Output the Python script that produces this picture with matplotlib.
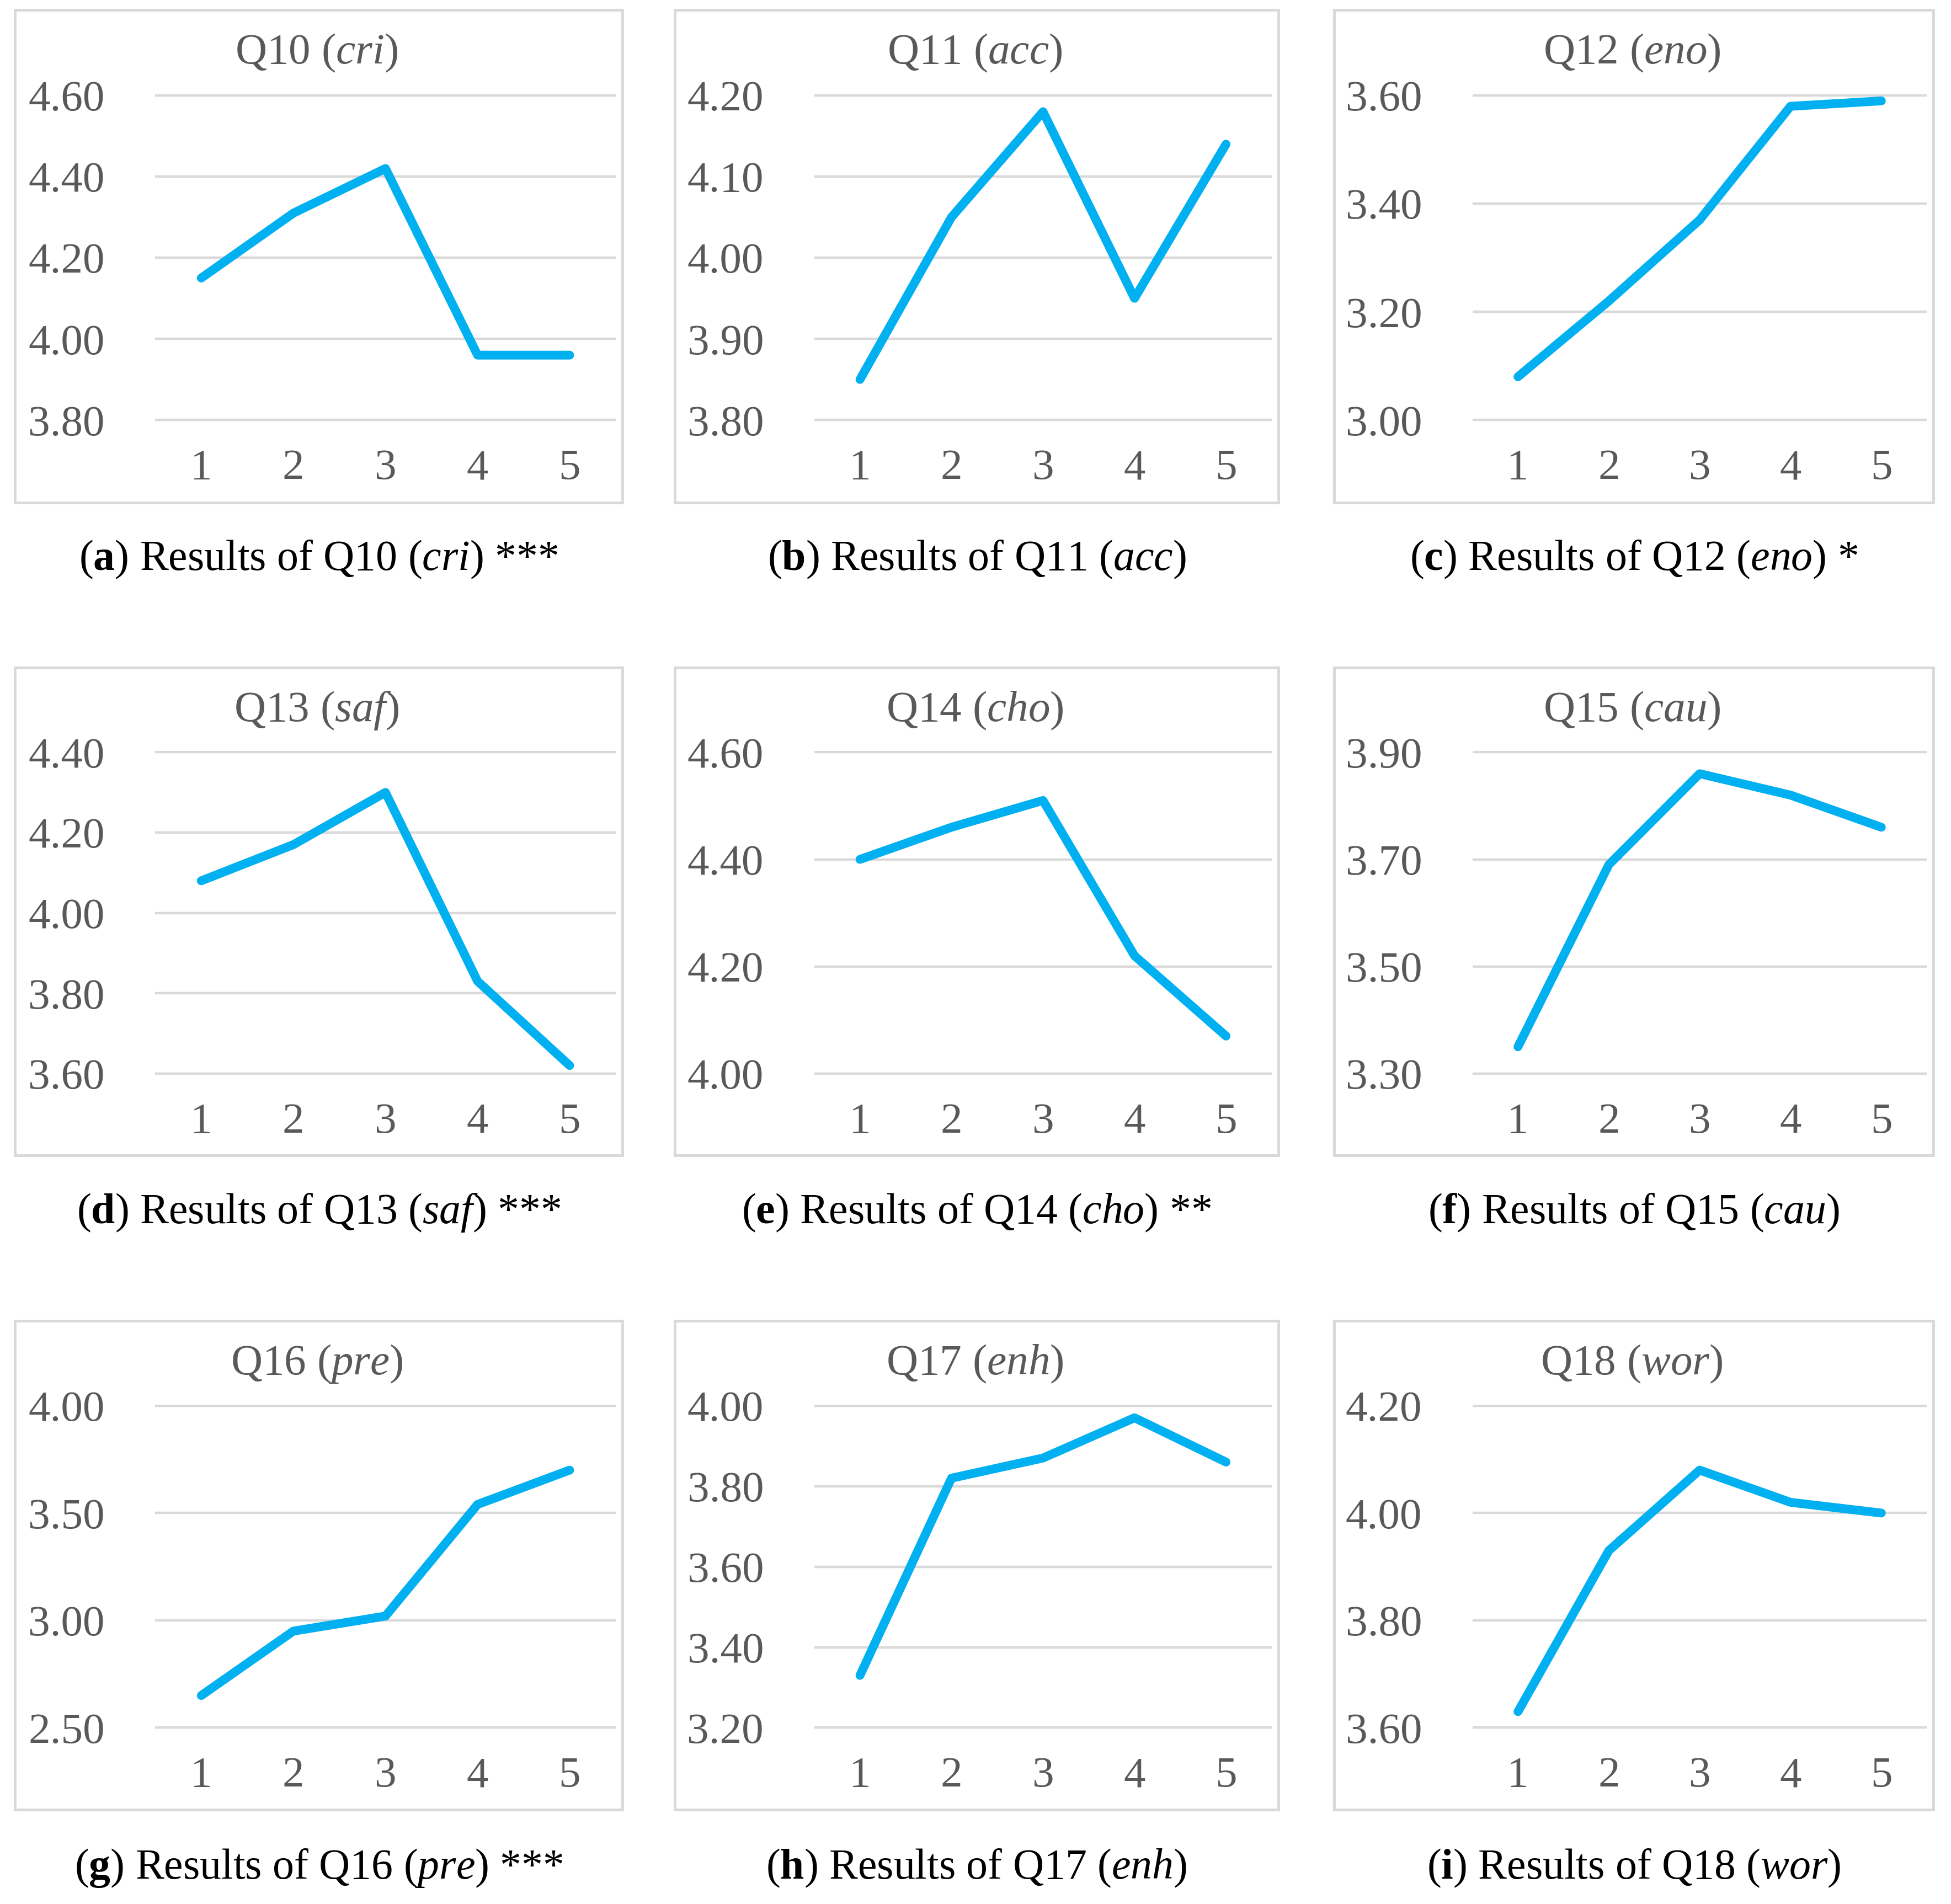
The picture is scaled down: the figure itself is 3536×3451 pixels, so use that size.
import numpy as np
import matplotlib
matplotlib.use("Agg")
import matplotlib.pyplot as plt

plt.rcParams['font.family'] = ['Liberation Serif', 'DejaVu Serif']
plt.rcParams['mathtext.fontset'] = 'custom'
plt.rcParams['mathtext.rm'] = 'Liberation Serif'
plt.rcParams['mathtext.it'] = 'Liberation Serif:italic'
plt.rcParams['mathtext.bf'] = 'Liberation Serif:bold'

# data
groups = [1, 2, 3, 4, 5]
questions = ['Q10', 'Q11', 'Q12', 'Q13', 'Q14', 'Q15', 'Q16', 'Q17', 'Q18']
abbrevs = ['cri', 'acc', 'eno', 'saf', 'cho', 'cau', 'pre', 'enh', 'wor']
letters = ['a', 'b', 'c', 'd', 'e', 'f', 'g', 'h', 'i']
stars = ['***', '', '*', '***', '**', '', '***', '', '']

q10 = [4.15, 4.31, 4.42, 3.96, 3.96]
q11 = [3.85, 4.05, 4.18, 3.95, 4.14]
q12 = [3.08, 3.22, 3.37, 3.58, 3.59]
q13 = [4.08, 4.17, 4.30, 3.83, 3.62]
q14 = [4.40, 4.46, 4.51, 4.22, 4.07]
q15 = [3.35, 3.69, 3.86, 3.82, 3.76]
q16 = [2.65, 2.95, 3.02, 3.54, 3.70]
q17 = [3.33, 3.82, 3.87, 3.97, 3.86]
q18 = [3.63, 3.93, 4.08, 4.02, 4.00]
values = [q10, q11, q12, q13, q14, q15, q16, q17, q18]

yticks = [
    [3.80, 4.00, 4.20, 4.40, 4.60],
    [3.80, 3.90, 4.00, 4.10, 4.20],
    [3.00, 3.20, 3.40, 3.60],
    [3.60, 3.80, 4.00, 4.20, 4.40],
    [4.00, 4.20, 4.40, 4.60],
    [3.30, 3.50, 3.70, 3.90],
    [2.50, 3.00, 3.50, 4.00],
    [3.20, 3.40, 3.60, 3.80, 4.00],
    [3.60, 3.80, 4.00, 4.20],
]

W, H = 3536, 3451
DPI = 100
fig = plt.figure(figsize=(W / DPI, H / DPI), dpi=DPI)

# panel frames in pixels
col_x = [(27, 1128), (1223, 2317), (2418, 3504)]
row_y = [(18, 911), (1210, 2094), (2394, 3280)]
cap_y = [1014, 2198, 3386]

grey = '#595959'
gridc = '#D9D9D9'
blue = '#00B0F0'

for k in range(9):
    r, c = divmod(k, 3)
    x0, x1 = col_x[c]
    y0, y1 = row_y[r]
    bw, bh = x1 - x0, y1 - y0

    # outer frame
    frame = fig.add_axes([x0 / W, 1 - y1 / H, bw / W, bh / H])
    frame.set_xticks([])
    frame.set_yticks([])
    for s in frame.spines.values():
        s.set_color(gridc)
        s.set_linewidth(3.5)

    # plot area
    px0 = x0 + 0.231 * bw
    px1 = x1 - 0.011 * bw
    py0 = y0 + 0.171 * bh
    py1 = y1 - 0.165 * bh
    ax = fig.add_axes([px0 / W, 1 - py1 / H, (px1 - px0) / W, (py1 - py0) / H])
    ax.patch.set_alpha(0)
    ax.plot(groups, values[k], color=blue, lw=11.5, solid_capstyle='round',
            solid_joinstyle='round', zorder=3)
    ax.set_xlim(0.5, 5.5)
    t = yticks[k]
    span = t[-1] - t[0]
    ax.set_ylim(t[0] - span * 0.004, t[-1] + span * 0.004)
    ax.set_yticks(t)
    ax.set_yticklabels(['%.2f' % v for v in t])
    ax.set_xticks(groups)
    ax.set_xticklabels([str(g) for g in groups])
    for s in ax.spines.values():
        s.set_visible(False)
    ax.grid(axis='y', color=gridc, lw=3.2)
    ax.set_axisbelow(True)
    ax.tick_params(axis='y', length=0, pad=66, labelsize=57, labelcolor=grey)
    ax.tick_params(axis='x', length=0, pad=36, labelsize=57, labelcolor=grey)

    # title inside the frame
    fig.text((x0 + x1) / 2 / W - 0.001, 1 - (y0 + 0.088 * bh) / H,
             r'%s ($\mathit{%s}$)' % (questions[k], abbrevs[k]),
             ha='center', va='center', fontsize=57, color=grey)

    # caption below
    cap = r'($\mathbf{%s}$) Results of %s ($\mathit{%s}$)' % (letters[k], questions[k], abbrevs[k])
    if stars[k]:
        cap += ' ' + stars[k]
    fig.text((x0 + x1) / 2 / W, 1 - cap_y[r] / H, cap,
             ha='center', va='center', fontsize=56, color='black')

fig.savefig('out.png', dpi=DPI, facecolor='white')
